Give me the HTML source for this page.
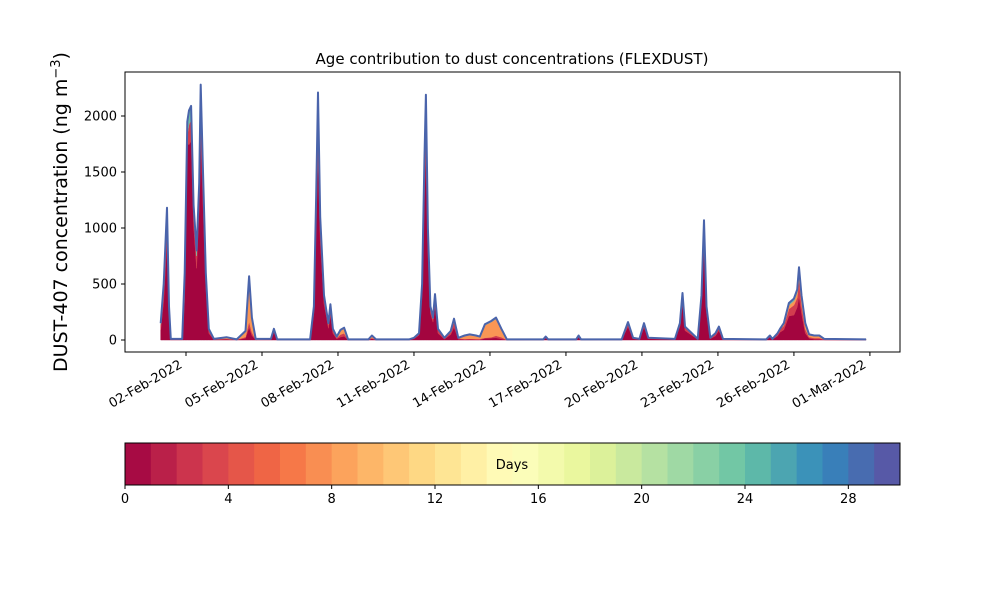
<!DOCTYPE html>
<html><head><meta charset="utf-8">
<style>
body{margin:0;background:#fff;font-family:"Liberation Sans","DejaVu Sans",sans-serif;}
svg text{font-family:"DejaVu Sans","Liberation Sans",sans-serif;}
</style></head>
<body>
<svg id="chart" width="1000" height="600" viewBox="0 0 1000 600" xmlns="http://www.w3.org/2000/svg">
<rect width="1000" height="600" fill="#fff"/>
<g id="plot"></g>
<text x="512" y="64" text-anchor="middle" font-size="15">Age contribution to dust concentrations (FLEXDUST)</text>
<text transform="translate(67,212) rotate(-90)" text-anchor="middle" font-size="19">DUST-407 concentration (ng m<tspan dy="-7" font-size="13">−3</tspan><tspan dy="7">)</tspan></text>
<g id="cbar"></g>
</svg>
<script>
const times=[0,0.12,0.25,0.33,0.4,0.85,0.95,1.05,1.12,1.2,1.3,1.42,1.52,1.58,1.66,1.78,1.9,2.1,2.6,3.0,3.35,3.49,3.6,3.75,4.35,4.47,4.6,5.9,6.05,6.14,6.21,6.3,6.45,6.55,6.62,6.7,6.8,6.95,7.1,7.24,7.4,8.2,8.34,8.5,9.8,10.0,10.2,10.32,10.41,10.47,10.55,10.65,10.75,10.83,10.95,11.2,11.45,11.58,11.75,12.0,12.2,12.45,12.6,12.8,13.05,13.24,13.45,13.67,15.1,15.2,15.3,16.4,16.5,16.6,18.2,18.45,18.65,18.9,19.08,19.25,20.3,20.5,20.6,20.7,21.2,21.35,21.45,21.55,21.7,21.9,22.04,22.2,23.9,24.05,24.15,24.35,24.45,24.6,24.8,25.0,25.13,25.2,25.3,25.45,25.6,25.8,26.0,26.2,27.85];
const total=[150,500,1180,300,10,10,600,1950,2050,2090,1200,800,1400,2280,1600,600,100,10,25,5,80,570,200,10,10,100,5,5,300,1300,2210,1100,400,250,150,320,100,30,90,110,5,5,40,5,5,20,60,500,1600,2190,1000,300,200,410,100,20,80,190,20,40,50,40,30,140,170,200,100,5,5,30,5,5,40,5,5,160,20,10,150,20,10,150,420,120,10,400,1070,300,20,60,120,10,5,40,10,60,100,150,330,370,450,650,400,150,50,40,40,10,5];
const freshFrac=[.6,.7,.75,.7,.5,.5,.6,.9,.85,.85,.85,.8,.85,.8,.8,.8,.6,.3,.3,.3,.2,.2,.2,.2,.5,.7,.5,.5,.8,.8,.75,.8,.8,.8,.7,.7,.6,.4,.3,.3,.3,.3,.3,.3,.5,.6,.7,.8,.8,.75,.8,.8,.8,.75,.6,.4,.6,.6,.4,.1,.1,.1,.1,.1,.1,.1,.1,.2,.3,.5,.3,.3,.6,.3,.5,.75,.6,.5,.75,.6,.5,.8,.8,.7,.5,.85,.8,.8,.6,.6,.7,.4,.3,.6,.5,.6,.7,.6,.65,.6,.65,.6,.6,.4,.3,.2,.2,.2,.2];
const orangeFrac=[0,0,0,0,0,0,0,0,0,0,0,0,0,0,0,0,.1,.2,.5,.3,.6,.65,.6,.5,0,0,0,0,0,0,0,0,0,0,0,0,.1,.3,.4,.4,.3,.3,.5,.3,0,0,0,0,0,0,0,0,0,0,0,.1,.1,.1,.2,.7,.7,.7,.6,.8,.8,.75,.7,.5,.3,0,0,0,0,0,0,0,0,0,0,0,0,0,0,0,0,0,0,0,0,0,0,0,0,0,0,0,0,.1,.1,.1,.1,.1,.15,.3,.4,.5,.5,.4,.3];
const yTicks=[0,500,1000,1500,2000];
const xTickDays=[1,4,7,10,13,16,19,22,25,28];
const xTickLabels=["02-Feb-2022","05-Feb-2022","08-Feb-2022","11-Feb-2022","14-Feb-2022","17-Feb-2022","20-Feb-2022","23-Feb-2022","26-Feb-2022","01-Mar-2022"];
const cbarTicks=[0,4,8,12,16,20,24,28];
const nDays=30;

const NS="http://www.w3.org/2000/svg";
const X0=125,X1=900,Y0=72,Y1=352;
const xs=t=>186+(t-1)*25.33;
const ys=v=>340-v*0.112;
function mk(tag,attrs,parent){const e=document.createElementNS(NS,tag);for(const k in attrs)e.setAttribute(k,attrs[k]);parent.appendChild(e);return e;}
const plot=document.getElementById('plot');

const fr=i=>freshFrac[i],orf=i=>orangeFrac[i];
const layerFns=[
 i=>total[i]*fr(i),
 i=>total[i]*Math.max(0,1-fr(i)-orf(i)-0.06),
 i=>total[i]*orf(i),
 i=>total[i]*0.06
];
const layerColors=["#a3053f","#d23d4f","#f99655","#6fb9a8"];
const layerNames=["layer-age-0-1","layer-age-1-5","layer-age-5-12","layer-age-older"];
let base=times.map(()=>0);
layerFns.forEach((f,li)=>{
  const top=times.map((t,i)=>base[i]+f(i));
  let d="M"+times.map((t,i)=>xs(t).toFixed(1)+","+ys(top[i]).toFixed(1)).join("L");
  for(let i=times.length-1;i>=0;i--)d+="L"+xs(times[i]).toFixed(1)+","+ys(base[i]).toFixed(1);
  const p=mk('path',{d:d+"Z",fill:layerColors[li],stroke:layerColors[li],'stroke-width':0.5},plot);
  
  
  base=top;
});
const line=mk('path',{d:"M"+times.map((t,i)=>xs(t).toFixed(1)+","+ys(total[i]).toFixed(1)).join("L"),fill:"none",stroke:"#4a64ab",'stroke-width':2,'stroke-linejoin':'round'},plot);



const frame=mk('rect',{x:X0,y:Y0,width:X1-X0,height:Y1-Y0,fill:"none",stroke:"#000",'stroke-width':1},plot);



yTicks.forEach(v=>{
  const y=ys(v);
  mk('line',{x1:X0,x2:X0-4,y1:y,y2:y,stroke:"#000"},plot);
  const tx=mk('text',{x:X0-8,y:y+4.5,'text-anchor':'end','font-size':13},plot);
  tx.textContent=v;
  
  
});
xTickDays.forEach((d,i)=>{
  const x=xs(d);
  mk('line',{x1:x,x2:x,y1:Y1,y2:Y1+4,stroke:"#000"},plot);
  const tx=mk('text',{transform:`translate(${x-3},${Y1+15}) rotate(-30)`,'text-anchor':'end','font-size':13},plot);
  tx.textContent=xTickLabels[i];
  
  
});

const stops=["#9e0142","#d53e4f","#f46d43","#fdae61","#fee08b","#ffffbf","#e6f598","#abdda4","#66c2a5","#3288bd","#5e4fa2"];
function hex(c){return [1,3,5].map(k=>parseInt(c.substr(k,2),16));}
function spectral(f){const p=f*10,i=Math.min(9,Math.floor(p)),u=p-i;const a=hex(stops[i]),b=hex(stops[i+1]);return "rgb("+a.map((v,k)=>Math.round(v+(b[k]-v)*u)).join(",")+")";}
const cb=document.getElementById('cbar');
const CX0=125,CX1=900,CY0=443,CY1=485,cw=(CX1-CX0)/nDays;
for(let i=0;i<nDays;i++){
  const r=mk('rect',{x:CX0+i*cw,y:CY0,width:cw+0.5,height:CY1-CY0,fill:spectral((i+0.5)/nDays)},cb);
  
  
}
mk('rect',{x:CX0,y:CY0,width:CX1-CX0,height:CY1-CY0,fill:"none",stroke:"#000"},cb);
cbarTicks.forEach(v=>{
  const x=CX0+v*cw;
  mk('line',{x1:x,x2:x,y1:CY1,y2:CY1+4,stroke:"#000"},cb);
  const tx=mk('text',{x:x,y:CY1+18,'text-anchor':'middle','font-size':13},cb);
  tx.textContent=v;
  
  
});
const dl=mk('text',{x:512,y:469,'text-anchor':'middle','font-size':13},cb);
dl.textContent="Days";


</script>
</body></html>
